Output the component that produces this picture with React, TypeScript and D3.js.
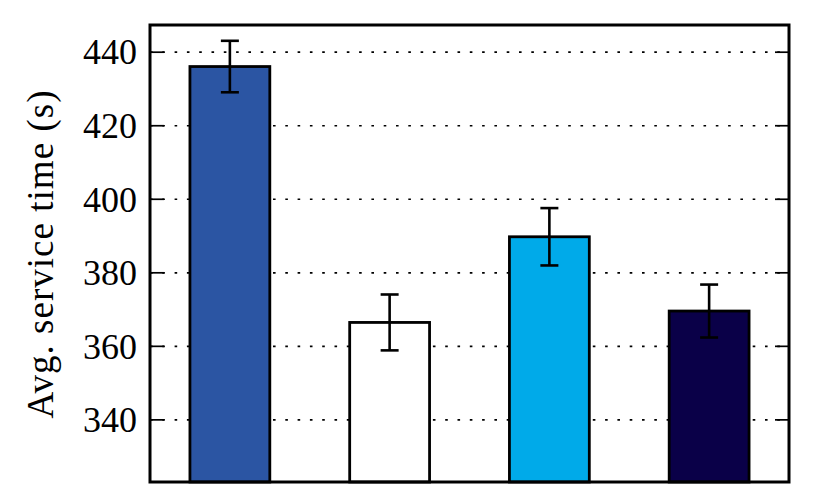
import React from "react";
import * as d3 from "d3";

const categories = ["A", "B", "C", "D"];
const values = [436.1, 366.5, 389.8, 369.6];
const errors = [7.0, 7.6, 7.8, 7.2];
const colors = ["#2b55a3", "#ffffff", "#00aae9", "#0a0048"];
const yTicks = [340, 360, 380, 400, 420, 440];
const yLabel = "Avg. service time (s)";

const W = 830, H = 498;
const L = 150, R = 789, T = 25, B = 482;
const FONT = "'Liberation Serif', 'Times New Roman', serif";

export default function App() {
  const x = d3.scaleBand<string>().domain(categories).range([L, R]).paddingInner(0.5).paddingOuter(0.25);
  const y = d3.scaleLinear().domain([323.1, 447.4]).range([B, T]);
  const capHalf = 9;
  return (
    <svg width={W} height={H} style={{ position: "absolute", left: 0, top: 0, background: "#fff" }}>
      {yTicks.map((t) => (
        <g key={t}>
          <line x1={L} x2={R} y1={y(t)} y2={y(t)} stroke="#000" strokeWidth={1.7} strokeDasharray="2.6,9.7" />
          <line x1={L} x2={L + 14} y1={y(t)} y2={y(t)} stroke="#000" strokeWidth={1.7} />
          <line x1={R - 14} x2={R} y1={y(t)} y2={y(t)} stroke="#000" strokeWidth={1.7} />
          <text x={L - 13} y={y(t)} dy="0.34em" textAnchor="end" fontFamily={FONT} fontSize={36} fill="#000">{t}</text>
        </g>
      ))}
      {categories.map((c, i) => {
        const bx = x(c)!;
        const cx = bx + x.bandwidth() / 2;
        return (
          <g key={c}>
            <rect x={bx} y={y(values[i])} width={x.bandwidth()} height={B - y(values[i])} fill={colors[i]} stroke="#000" strokeWidth={2.8} />
            <line x1={cx} x2={cx} y1={y(values[i] + errors[i])} y2={y(values[i] - errors[i])} stroke="#000" strokeWidth={2.6} />
            <line x1={cx - capHalf} x2={cx + capHalf} y1={y(values[i] + errors[i])} y2={y(values[i] + errors[i])} stroke="#000" strokeWidth={2.6} />
            <line x1={cx - capHalf} x2={cx + capHalf} y1={y(values[i] - errors[i])} y2={y(values[i] - errors[i])} stroke="#000" strokeWidth={2.6} />
          </g>
        );
      })}
      <rect x={L} y={T} width={R - L} height={B - T} fill="none" stroke="#000" strokeWidth={3} />
      <text transform={`translate(53, ${(T + B) / 2 + 1}) rotate(-90)`} textAnchor="middle" fontFamily={FONT} fontSize={37} textLength={328} lengthAdjust="spacing" fill="#000">{yLabel}</text>
    </svg>
  );
}
